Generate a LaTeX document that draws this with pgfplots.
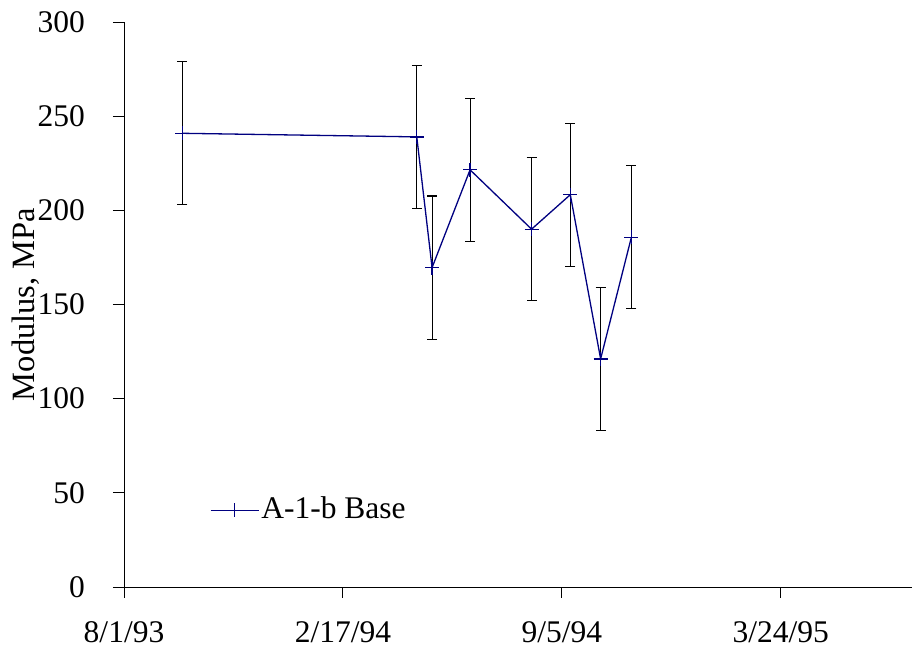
\documentclass[border=0pt]{standalone}
\usepackage{fontspec}
\setmainfont{Liberation Serif}
\usepackage{pgfplots}
\pgfplotsset{compat=1.18}
\definecolor{navyb}{RGB}{0,0,128}
\begin{document}
\fontsize{31.5}{36}\selectfont
\begin{tikzpicture}
\begin{axis}[
  scale only axis, width=788pt, height=565pt,
  xmin=0, xmax=720, ymin=0, ymax=300,
  axis x line*=bottom, axis y line*=left,
  axis line style={black, line width=0.8pt},
  tick style={black, line width=0.8pt},
  tick align=outside, major tick length=11pt,
  xtick={0,200,400,600},
  xticklabels={8/1/93,2/17/94,9/5/94,3/24/95},
  ytick={0,50,...,300},
  /pgf/number format/assume math mode=true,
  ticklabel style={font=\fontsize{31.5}{36}\selectfont},
  xticklabel style={inner sep=0pt, yshift=-23pt},
  yticklabel style={inner sep=0pt, xshift=-28pt},
  ylabel={Modulus, MPa},
  ylabel style={at={(rel axis cs:0,0.5)}, anchor=center, yshift=98pt, font=\fontsize{32.5}{36}\selectfont},
  legend style={draw=none, fill=none, at={(rel axis cs:0.109,0.136)}, anchor=west, font=\fontsize{31.5}{36}\selectfont, inner sep=0pt},
  legend cell align=left,
  legend image code/.code={\draw[mark repeat=2, mark phase=2] plot coordinates {(0pt,0pt) (24pt,0pt) (48pt,0pt)};},
]
\addplot[navyb, line width=1.3pt, mark=+, mark size=7pt, mark options={solid, line width=1.3pt},
  error bars/.cd, y dir=both, y explicit,
  error bar style={black, line width=1.1pt},
  error mark options={black, line width=1.1pt, mark size=5pt, rotate=90}]
  coordinates {
  (53.3,240.9) +- (0,38)
  (267.5,239.0) +- (0,38)
  (281.5,169.6) +- (0,38)
  (316.2,221.5) +- (0,38)
  (372.4,190.0) +- (0,38)
  (407.8,208.3) +- (0,38)
  (435.5,121.1) +- (0,38)
  (463.6,185.7) +- (0,38)
  };
\addlegendentry{A-1-b Base}
\coordinate (ll) at (rel axis cs:0,0);
\end{axis}
\pgfresetboundingbox
\path (ll) ++(-124pt,-68pt) rectangle ++(913pt,655pt);
\end{tikzpicture}
\end{document}
